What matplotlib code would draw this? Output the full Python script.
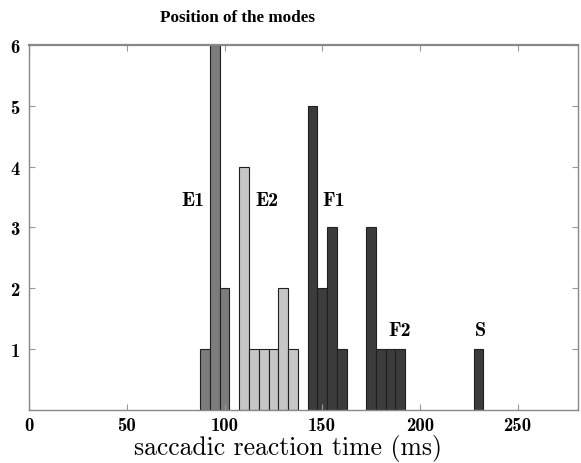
import matplotlib
matplotlib.use("Agg")
import matplotlib.pyplot as plt

# ---------------------------------------------------------------------------
# Histogram data: bin left edges (ms), counts, 5 ms bins
# ---------------------------------------------------------------------------
BIN_WIDTH = 5

e1_edges = [87.5, 92.5, 97.5]
e1_counts = [1, 6, 2]

e2_edges = [107.5, 112.5, 117.5, 122.5, 127.5, 132.5]
e2_counts = [4, 1, 1, 1, 2, 1]

f1_edges = [142.5, 147.5, 152.5, 157.5]
f1_counts = [5, 2, 3, 1]

f2_edges = [172.5, 177.5, 182.5, 187.5]
f2_counts = [3, 1, 1, 1]

s_edges = [227.5]
s_counts = [1]

mode_labels = ["E1", "E2", "F1", "F2", "S"]
label_x = [84, 121.5, 156, 189.5, 231]
label_y = [3.45, 3.45, 3.45, 1.32, 1.32]

x_ticks = [0, 50, 100, 150, 200, 250]
y_ticks = [1, 2, 3, 4, 5, 6]

fig = plt.figure(figsize=(5.81, 4.64), dpi=100)
ax = fig.add_axes([0.0504, 0.1142, 0.9446, 0.7867])

groups = [
    (e1_edges, e1_counts, "#7c7c7c"),
    (e2_edges, e2_counts, "#c6c6c6"),
    (f1_edges, f1_counts, "#3c3c3c"),
    (f2_edges, f2_counts, "#3c3c3c"),
    (s_edges, s_counts, "#3c3c3c"),
]
for edges, counts, color in groups:
    ax.bar(edges, counts, width=BIN_WIDTH, align="edge", color=color,
           edgecolor="#202020", linewidth=0.8)

for name, lx, ly in zip(mode_labels, label_x, label_y):
    ax.text(lx, ly, name, ha="center", va="center", fontsize=14.5,
            family="cmb10")

ax.set_xlim(0, 281)
ax.set_ylim(0, 6)
ax.set_xticks(x_ticks)
ax.set_yticks(y_ticks)

for spine in ax.spines.values():
    spine.set_color("#888888")
    spine.set_linewidth(1.0)
ax.spines["top"].set_linewidth(1.6)

ax.tick_params(direction="in", length=4, color="#999999", width=0.8,
               top=True, right=True, labelsize=13.5)
for lbl in ax.get_xticklabels() + ax.get_yticklabels():
    lbl.set_family("cmb10")
ax.tick_params(axis="x", pad=4)
ax.tick_params(axis="y", pad=7)

ax.set_xlabel("saccadic reaction time (ms)", family="cmr10", fontsize=18.5)
ax.xaxis.set_label_coords(0.471, -0.066)

fig.text(0.408, 0.962, "Position of the modes", ha="center", va="center",
         fontsize=12.3, fontweight="bold", family="Liberation Serif")

fig.savefig("out.png", dpi=100)
